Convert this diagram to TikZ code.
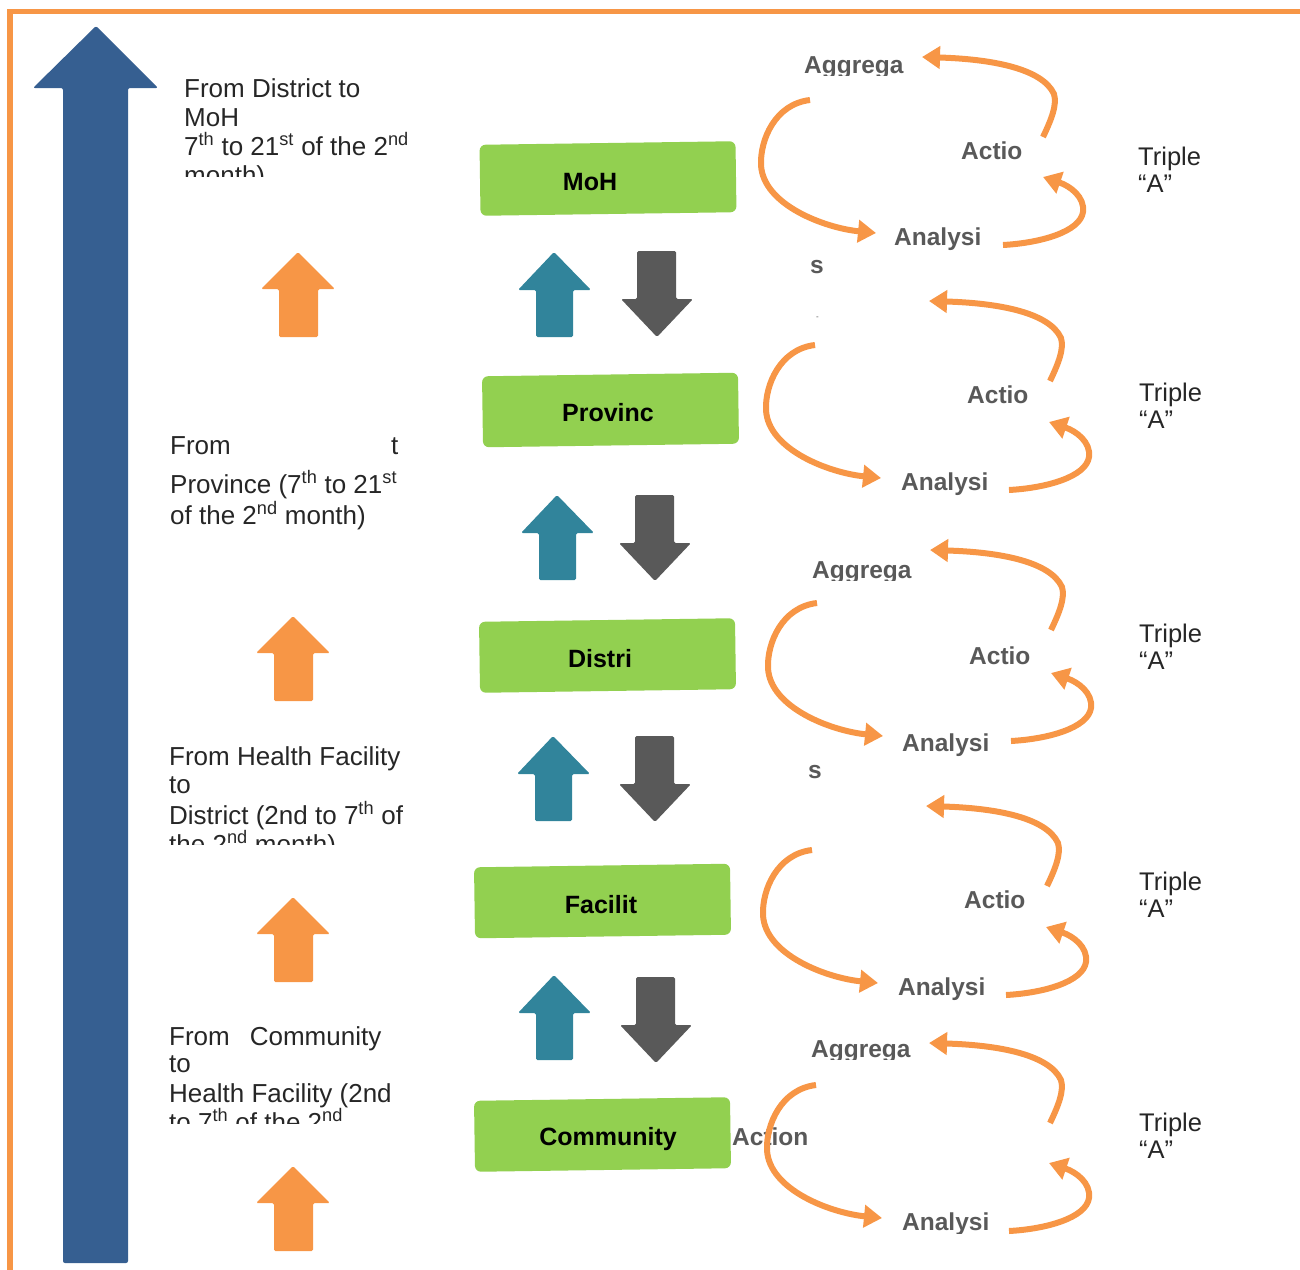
\documentclass[tikz,border=0pt]{standalone}
\usepackage{fontspec}
\setmainfont{Liberation Sans}
\usetikzlibrary{arrows.meta}
\definecolor{orng}{HTML}{F79646}
\definecolor{bigblue}{HTML}{365F91}
\definecolor{tealc}{HTML}{31849B}
\definecolor{dgray}{HTML}{595959}
\definecolor{lgreen}{HTML}{92D050}
\definecolor{txt}{HTML}{262626}
\newcommand\cyclearcs[6]{%
  \draw[cyarrow,shift={(#1,#2)}] (1043,137) .. controls (1052,118) and (1057,105) .. (1054,94) .. controls (1042,68) and (990,59) .. (922,57);
  \draw[cyarrow,shift={(#3,#4)}] (810,100) .. controls (775,104) and (760,140) .. (761,165) .. controls (763,205) and (825,228) .. (876,233);
  \draw[cyarrow,shift={(#5,#6)}] (1003,245) .. controls (1040,243) and (1080,232) .. (1083,212) .. controls (1085,197) and (1070,186) .. (1043,177);
}
\newcommand\orangeup[2]{\fill[orng,rounded corners=1.5pt,shift={(#1,#2)}] (0,0) -- (37,37) -- (20,37) -- (20,85) -- (-19,85) -- (-19,37) -- (-37,37) -- cycle;}
\newcommand\tealup[2]{\fill[tealc,rounded corners=1.5pt,shift={(#1,#2)}] (0,0) -- (37,38) -- (19,38) -- (19,85) -- (-18,85) -- (-18,38) -- (-36,38) -- cycle;}
\newcommand\graydown[2]{\fill[dgray,rounded corners=1.5pt,shift={(#1,#2)}] (-20,0) -- (19,0) -- (19,48) -- (36,48) -- (0,86) -- (-36,48) -- (-20,48) -- cycle;}
\begin{document}
\begin{tikzpicture}[x=1pt,y=-1pt,
  ltxt/.style={anchor=base west,inner sep=0pt,text=txt,font=\fontsize{26}{29}\selectfont},
  ctxt/.style={anchor=base west,inner sep=0pt,text=dgray,font=\fontsize{24.5}{28}\selectfont\bfseries},
  ttxt/.style={anchor=base west,inner sep=0pt,text=txt,font=\fontsize{25.5}{29}\selectfont},
  lvlbox/.style={fill=lgreen,minimum width=256pt,minimum height=71pt,rounded corners=6pt,inner sep=0pt,rotate=0.8},
  lvltxt/.style={anchor=base,inner sep=0pt,text=black,font=\fontsize{25}{29}\selectfont\bfseries},
  cyarrow/.style={draw=orng,line width=6pt,-{Triangle[length=18pt,width=22pt]}},
]
\useasboundingbox (0,0) rectangle (1300,1269);
% frame
\draw[orng,line width=5.5pt] (10,1275) -- (10,11.5) -- (1306,11.5);
% big blue arrow
\fill[bigblue,rounded corners=2pt] (96,26) -- (158,88) -- (128,88) -- (128,1263) -- (63,1263) -- (63,88) -- (33,88) -- cycle;
% orange up arrows
\orangeup{298}{252}
\orangeup{293}{616}
\orangeup{293}{897}
\orangeup{293}{1166}
% left texts
\begin{scope}
  \clip (170,60) rectangle (440,176);
  \node[ltxt] (l1a) at (184,97) {From District to};
  \node[ltxt] (l1b) at (184,126) {MoH};
  \node[ltxt] (l1c) at (184,155) {7\textsuperscript{th} to 21\textsuperscript{st} of the 2\textsuperscript{nd}};
  \node[ltxt] (l1d) at (184,184) {month)};
\end{scope}
\node[ltxt] (l2a) at (170,454) {From};
\node[ltxt] (l2t) at (391,454) {t};
\node[ltxt] (l2b) at (170,493) {Province (7\textsuperscript{th} to 21\textsuperscript{st}};
\node[ltxt] (l2c) at (170,524) {of the 2\textsuperscript{nd} month)};
\begin{scope}
  \clip (160,735) rectangle (440,844);
  \node[ltxt] (l3a) at (169,765) {From Health Facility};
  \node[ltxt] (l3b) at (169,793) {to};
  \node[ltxt] (l3c) at (169,824) {District (2nd to 7\textsuperscript{th} of};
  \node[ltxt] (l3d) at (169,853) {the 2\textsuperscript{nd} month)};
\end{scope}
\begin{scope}
  \clip (160,1015) rectangle (440,1123);
  \node[ltxt] (l4a) at (169,1045) {From\hspace{20pt}Community};
  \node[ltxt] (l4b) at (169,1072) {to};
  \node[ltxt] (l4c) at (169,1102) {Health Facility (2nd};
  \node[ltxt] (l4d) at (169,1131) {to 7\textsuperscript{th} of the 2\textsuperscript{nd}};
\end{scope}
% level boxes
\node[lvlbox] (moh) at (608,178.5) {};
\node[lvlbox] (prov) at (610.5,410) {};
\node[lvlbox] (dist) at (607.5,655.5) {};
\node[lvlbox] (fac) at (602.5,901) {};
\node[lvlbox] (comm) at (602.5,1134.5) {};
\node[lvltxt] (mohT) at (590,190) {MoH};
\node[lvltxt] (provT) at (608,421) {Provinc};
\node[lvltxt] (distT) at (600,667) {Distri};
\node[lvltxt] (facT) at (601,913) {Facilit};
\node[lvltxt] (commT) at (608,1145) {Community};
% up / down arrows
\tealup{554}{252} \graydown{657}{251}
\tealup{557}{495} \graydown{655}{495}
\tealup{553}{736} \graydown{655}{736}
\tealup{554}{975} \graydown{656}{977}
% cycle labels
\begin{scope}\clip (790,40) rectangle (930,75); \node[ctxt] (agg1) at (804,73) {Aggrega}; \end{scope}
\node[ctxt] (act1) at (961,159) {Actio};
\node[ctxt] (ana1) at (894,245) {Analysi};
\node[ctxt] (s1) at (810,273) {s};
\node[ttxt] (tr1) at (1138,165) {Triple};
\node[ttxt] (tq1) at (1138,192) {“A”};
\node[anchor=base west,inner sep=0pt,text=dgray,font=\fontsize{8}{9}\selectfont] (d2) at (816,319) {-};
\node[ctxt] (act2) at (967,403) {Actio};
\node[ctxt] (ana2) at (901,490) {Analysi};
\node[ttxt] (tr2) at (1139,401) {Triple};
\node[ttxt] (tq2) at (1139,428) {“A”};
\begin{scope}\clip (795,545) rectangle (935,580); \node[ctxt] (agg3) at (812,578) {Aggrega}; \end{scope}
\node[ctxt] (act3) at (969,664) {Actio};
\node[ctxt] (ana3) at (902,751) {Analysi};
\node[ctxt] (s3) at (808,778) {s};
\node[ttxt] (tr3) at (1139,642) {Triple};
\node[ttxt] (tq3) at (1139,669) {“A”};
\node[ctxt] (act4) at (964,908) {Actio};
\node[ctxt] (ana4) at (898,995) {Analysi};
\node[ttxt] (tr4) at (1139,890) {Triple};
\node[ttxt] (tq4) at (1139,917) {“A”};
\begin{scope}\clip (795,1025) rectangle (935,1059); \node[ctxt] (agg5) at (811,1057) {Aggrega}; \end{scope}
\node[ctxt] (act5) at (732,1145) {Action};
\begin{scope}\clip (890,1200) rectangle (1000,1233); \node[ctxt] (ana5) at (902,1230) {Analysi}; \end{scope}
\node[ttxt] (tr5) at (1139,1131) {Triple};
\node[ttxt] (tq5) at (1139,1158) {“A”};
% cycle arcs
\cyclearcs{0}{0}{0}{0}{0}{0}
\cyclearcs{7}{244}{5}{245}{6}{245}
\cyclearcs{8}{493}{7}{503}{8}{496}
\cyclearcs{4}{749}{2}{750}{3}{750}
\cyclearcs{7}{986}{6}{985}{6}{986}
\end{tikzpicture}
\end{document}
